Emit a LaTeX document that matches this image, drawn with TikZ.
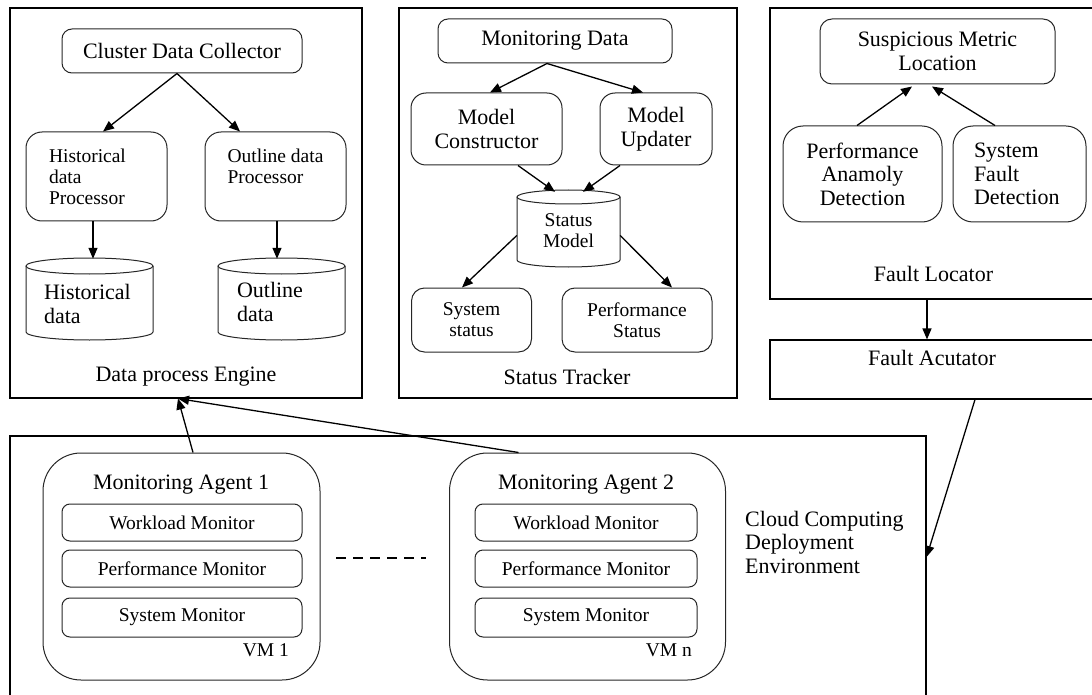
\documentclass[tikz,border=0pt]{standalone}
\usepackage{fontspec}
\setmainfont{Liberation Serif}
\usetikzlibrary{arrows.meta}
\newcommand{\bigf}{\fontsize{22}{23.5}\selectfont}
\newcommand{\smf}{\fontsize{19.5}{21}\selectfont}
\begin{document}
\begin{tikzpicture}[x=1pt,y=1pt,
  frame/.style={draw=black, line width=1.1pt, inner sep=0pt},
  rbox/.style={draw=black!85, line width=1pt, rounded corners=#1, inner sep=0pt, align=center, font=\bigf},
  rbox/.default=12pt,
  cylnode/.style={draw=none, inner sep=0pt, align=left},
  cyl/.style={draw=black!85, line width=1pt},
  title/.style={inner sep=0pt, font=\bigf, align=center},
  arr/.style={line width=1.3pt, -{Triangle[length=11pt,width=9pt]}},
  dline/.style={line width=1.8pt, dash pattern=on 10pt off 7pt},
]
\useasboundingbox (0,0) rectangle (1092,-695);

% ---------- Data process Engine ----------
\node[frame, minimum width=352pt, minimum height=390pt] (dpe) at (186,-203) {};
\node[title] (dpeT) at (186,-377) {Data process Engine};
\node[rbox=10pt, minimum width=240pt, minimum height=44pt] (cdc) at (182,-51) {Cluster Data Collector};
\node[rbox=16pt, minimum width=141pt, minimum height=89pt, text width=95pt, inner xsep=23pt, align=left, font=\smf] (hdp) at (96.5,-176.5) {Historical\\data\\Processor};
\node[rbox=16pt, minimum width=141pt, minimum height=89pt, align=left, font=\smf] (odp) at (275.5,-176.5) {Outline data\\Processor\\\mbox{}};
\node[cylnode, minimum width=127pt, minimum height=82pt, text width=91pt, inner xsep=18pt, font=\bigf] (hd) at (89.5,-304) {Historical\\data};
\draw[cyl] (89.5,-266) ellipse [x radius=63.5pt, y radius=8pt];
\draw[cyl] (26,-266) -- (26,-332) arc[start angle=180, end angle=360, x radius=63.5pt, y radius=8pt] -- (153,-266);
\node[cylnode, minimum width=127pt, minimum height=82pt, text width=89pt, inner xsep=19pt, font=\bigf] (od) at (281.5,-302) {Outline\\data};
\draw[cyl] (281.5,-266) ellipse [x radius=63.5pt, y radius=8pt];
\draw[cyl] (218,-266) -- (218,-332) arc[start angle=180, end angle=360, x radius=63.5pt, y radius=8pt] -- (345,-266);
\draw[arr] ([xshift=-5pt]cdc.south) -- ([xshift=6.5pt]hdp.north);
\draw[arr] ([xshift=-5pt]cdc.south) -- ([xshift=-35.5pt]odp.north);
\draw[arr] ([xshift=-3.5pt]hdp.south) -- ([xshift=3.5pt,yshift=4pt]hd.north);
\draw[arr] ([xshift=1.5pt]odp.south) -- ([xshift=-4.5pt,yshift=2pt]od.north);

% ---------- Status Tracker ----------
\node[frame, minimum width=338pt, minimum height=390pt] (st) at (568,-203) {};
\node[title] (stT) at (567,-377) {Status Tracker};
\node[rbox=10pt, minimum width=234pt, minimum height=44pt] (md) at (555,-41) {Monitoring Data};
\node[rbox=15pt, minimum width=151pt, minimum height=72pt] (mc) at (486.5,-129) {Model\\Constructor};
\node[rbox=15pt, minimum width=112pt, minimum height=72pt] (mu) at (656,-129) {Model\\Updater};
\node[cylnode, align=center, minimum width=103pt, minimum height=77pt, font=\smf] (sm) at (568.5,-231) {Status\\Model};
\draw[cyl] (568.5,-197) ellipse [x radius=51.5pt, y radius=7pt];
\draw[cyl] (517,-197) -- (517,-260) arc[start angle=180, end angle=360, x radius=51.5pt, y radius=7pt] -- (620,-197);
\node[rbox=13pt, minimum width=120pt, minimum height=64pt, font=\smf] (ss) at (471.5,-320) {System\\status};
\node[rbox=13pt, minimum width=150pt, minimum height=64pt, font=\smf] (ps) at (637,-320) {Performance\\Status};
\draw[arr] ([xshift=-8pt]md.south) -- ([xshift=3.5pt]mc.north);
\draw[arr] ([xshift=-8pt]md.south) -- ([xshift=-13pt]mu.north);
\draw[arr] ([xshift=31.5pt]mc.south) -- ([xshift=-13.5pt,yshift=0.5pt]sm.north);
\draw[arr] ([xshift=-36pt]mu.south) -- ([xshift=14.5pt,yshift=0.5pt]sm.north);
\draw[arr] ([yshift=-4.5pt]sm.west) -- ([xshift=-9.5pt]ss.north);
\draw[arr] ([yshift=-4.5pt]sm.east) -- ([xshift=35pt]ps.north);

% ---------- Fault Locator ----------
\node[frame, minimum width=324pt, minimum height=291pt] (fl) at (932,-153.5) {};
\node[title] (flT) at (933.5,-274) {Fault Locator};
\node[rbox=12pt, minimum width=235pt, minimum height=65pt] (sml) at (937.5,-51.5) {Suspicious Metric\\Location};
\node[rbox=20pt, minimum width=159pt, minimum height=96pt] (pad) at (862.5,-174) {Performance\\Anamoly\\Detection};
\node[rbox=20pt, minimum width=133pt, minimum height=96pt, text width=91pt, inner xsep=21pt, align=left] (sfd) at (1019.5,-174) {System\\Fault\\Detection};
\draw[arr] ([xshift=-5.5pt]pad.north) -- ([xshift=-25.5pt,yshift=-2pt]sml.south);
\draw[arr] ([xshift=-24.5pt]sfd.north) -- ([xshift=-5.5pt,yshift=-2pt]sml.south);
\node[frame, minimum width=324pt, minimum height=59pt, font=\bigf, align=center] (fa) at (932,-369.5) {Fault Acutator\\\mbox{}};
\draw[arr] ([xshift=-5pt]fl.south) -- ([xshift=-5pt]fa.north);

% ---------- Cloud Computing Deployment Environment ----------
\node[frame, minimum width=916pt, minimum height=266pt] (cloud) at (468,-569) {};
\node[inner sep=0pt, anchor=west, align=left, font=\bigf] (cloudT) at (745,-542) {Cloud Computing\\Deployment\\Environment};
\draw[arr] ([xshift=43pt]fa.south) -- ([yshift=12pt]cloud.east);

% Agent 1
\node[rbox=38pt, minimum width=277pt, minimum height=227pt] (ma1) at (181.5,-566.5) {};
\node[title] (ma1T) at (181,-485) {Monitoring Agent 1};
\node[rbox=8pt, minimum width=240pt, minimum height=37pt, font=\smf] (wm1) at (182,-522.5) {Workload Monitor};
\node[rbox=8pt, minimum width=240pt, minimum height=37pt, font=\smf] (pm1) at (182,-568.5) {Performance Monitor};
\node[rbox=8pt, minimum width=240pt, minimum height=39pt, font=\smf] (sy1) at (182,-617.5) {System Monitor};
\node[inner sep=0pt, anchor=east, font=\smf] (vm1) at (289,-650) {VM 1};

% dashed separator
\coordinate (d1) at (336,-558);
\coordinate (d2) at (426,-558);
\draw[dline] (d1) -- (d2);

% Agent 2
\node[rbox=38pt, minimum width=276pt, minimum height=227pt] (ma2) at (587.5,-566.5) {};
\node[title] (ma2T) at (586,-485) {Monitoring Agent 2};
\node[rbox=8pt, minimum width=222pt, minimum height=37pt, font=\smf] (wm2) at (586,-522.5) {Workload Monitor};
\node[rbox=8pt, minimum width=222pt, minimum height=37pt, font=\smf] (pm2) at (586,-568.5) {Performance Monitor};
\node[rbox=8pt, minimum width=222pt, minimum height=39pt, font=\smf] (sy2) at (586,-617.5) {System Monitor};
\node[inner sep=0pt, anchor=east, font=\smf] (vm2) at (692,-650) {VM n};

% agents to Data process Engine
\draw[arr] ([xshift=11.5pt]ma1.north) -- ([xshift=-8pt]dpe.south);
\draw[arr] ([xshift=-69pt]ma2.north) -- ([xshift=-8pt]dpe.south);
\end{tikzpicture}
\end{document}
